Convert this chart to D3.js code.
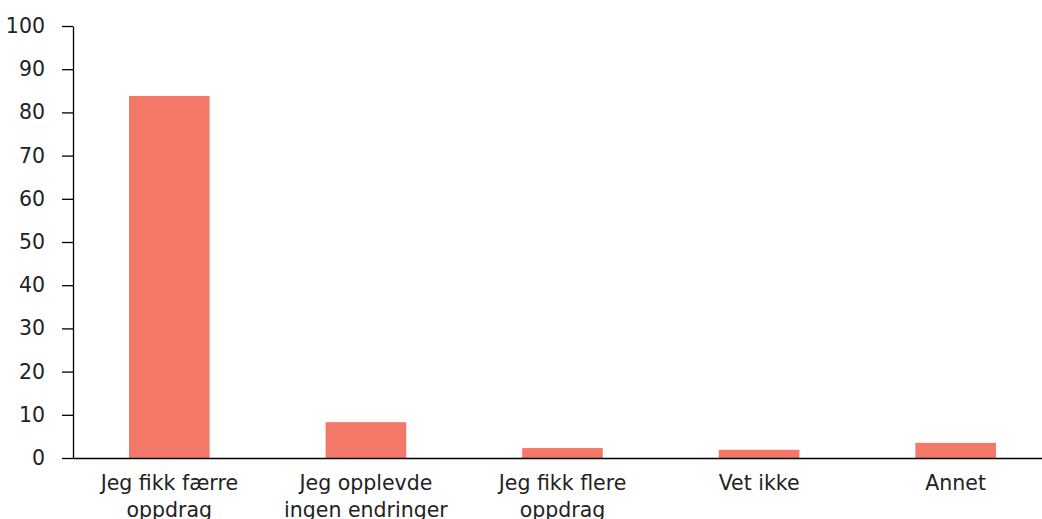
<!DOCTYPE html>
<html lang="no">
<head>
<meta charset="UTF-8" />
<script src="https://d3js.org/d3.v7.min.js"></script>
<style>
  body { margin: 0; background: #fff; }
  .axis text { font-family: "DejaVu Sans", sans-serif; font-size: 20.5px; fill: #222; }
  .axis path, .axis line { stroke: #000; stroke-width: 1.3px; }
</style>
</head>
<body>
<svg id="chart" width="1042" height="519"></svg>
<script>
// categories and values (percent)
var categories = [
  ["Jeg fikk færre", "oppdrag"],
  ["Jeg opplevde", "ingen endringer"],
  ["Jeg fikk flere", "oppdrag"],
  ["Vet ikke"],
  ["Annet"]
];
var values = [83.8, 8.3, 2.3, 1.9, 3.5];
var yTicks = [0, 10, 20, 30, 40, 50, 60, 70, 80, 90, 100];

var svg = d3.select("#chart");
var mLeft = 73, mRight = 1052, mTop = 26, mBottom = 458;

var x = d3.scaleBand()
  .domain(d3.range(categories.length))
  .range([mLeft, mRight])
  .paddingInner(0.59)
  .paddingOuter(0.285);

var y = d3.scaleLinear().domain([0, 100]).range([mBottom, mTop]);

// bars
svg.append("g").selectAll("rect")
  .data(values)
  .enter()
  .append("rect")
  .attr("x", function(d, i){ return x(i); })
  .attr("width", x.bandwidth())
  .attr("y", function(d){ return y(d); })
  .attr("height", function(d){ return mBottom - y(d); })
  .attr("fill", "#f47868");

// y axis
svg.append("g")
  .attr("class", "axis")
  .attr("transform", "translate(" + mLeft + ",0)")
  .call(d3.axisLeft(y).tickValues(yTicks).tickSize(11).tickPadding(17).tickSizeOuter(0));

// x axis
var xAxis = svg.append("g")
  .attr("class", "axis")
  .attr("transform", "translate(0," + mBottom + ")")
  .call(d3.axisBottom(x).tickSize(0).tickSizeOuter(0).tickFormat(""));

xAxis.selectAll(".tick").each(function(i){
  var t = d3.select(this).select("text")
    .attr("y", 0).attr("dy", null);
  t.selectAll("tspan")
    .data(categories[i])
    .enter()
    .append("tspan")
    .attr("x", 0)
    .attr("y", function(d, k){ return 32 + k * 27; })
    .text(function(d){ return d; });
});
</script>
</body>
</html>
